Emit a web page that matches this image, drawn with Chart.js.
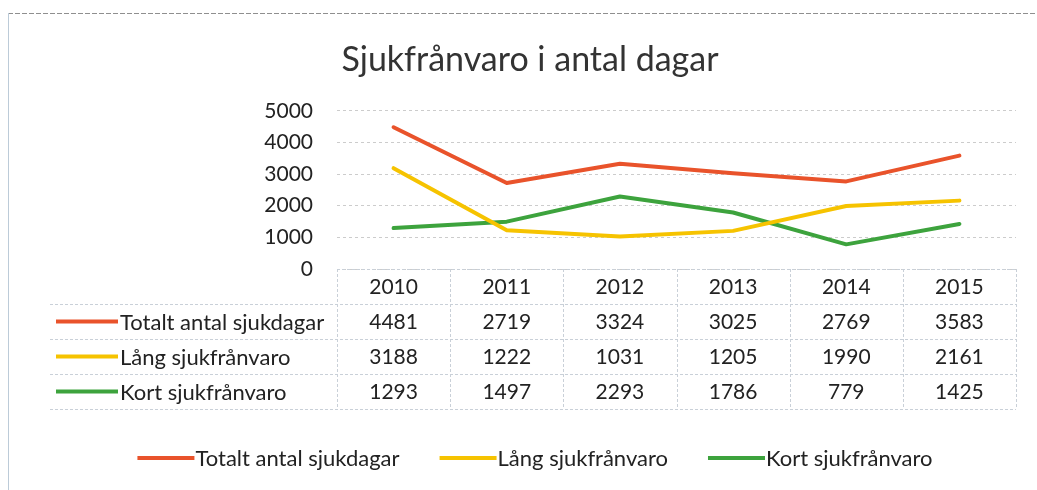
<!DOCTYPE html>
<html>
<head>
<meta charset="utf-8">
<script src="https://cdn.jsdelivr.net/npm/chart.js@4.4.1/dist/chart.umd.min.js"></script>
<style>
html,body{margin:0;padding:0;background:#fff;}
#wrap{width:1037px;height:490px;position:relative;}
canvas{display:block;}
</style>
</head>
<body>
<div id="wrap"><canvas id="c" width="1037" height="490"></canvas></div>
<script>
// ---- data ----
const years = ['2010', '2011', '2012', '2013', '2014', '2015'];
const totaltAntal = [4481, 2719, 3324, 3025, 2769, 3583];
const langFranvaro = [3188, 1222, 1031, 1205, 1990, 2161];
const kortFranvaro = [1293, 1497, 2293, 1786, 779, 1425];
const seriesNames = ['Totalt antal sjukdagar', 'Lång sjukfrånvaro', 'Kort sjukfrånvaro'];
const yTickValues = [0, 1000, 2000, 3000, 4000, 5000];
const titleText = 'Sjukfrånvaro i antal dagar';

const seriesColors = ['#E9532B', '#F6C300', '#3DA33D'];
const FONT = 'Lato, "Open Sans", sans-serif';
const TEXT = '#222222';

// ---- frame / border ----
const framePlugin = {
  id: 'frame',
  beforeDraw(chart) {
    const ctx = chart.ctx;
    ctx.save();
    ctx.fillStyle = '#ffffff';
    ctx.fillRect(0, 0, chart.width, chart.height);
    ctx.lineWidth = 1;
    ctx.strokeStyle = '#8f8f8f';
    ctx.setLineDash([5, 2]);
    ctx.beginPath(); ctx.moveTo(8, 13.5); ctx.lineTo(chart.width, 13.5); ctx.stroke();
    ctx.setLineDash([]);
    ctx.strokeStyle = '#bccbd8';
    ctx.beginPath(); ctx.moveTo(8.5, 13); ctx.lineTo(8.5, chart.height); ctx.stroke();
    ctx.restore();
  }
};

// ---- data table + legend ----
const tablePlugin = {
  id: 'dataTable',
  afterDraw(chart) {
    const ctx = chart.ctx;
    const area = chart.chartArea;
    const xs = chart.scales.x;
    const rowH = 35;
    const top = area.bottom;
    const nCols = chart.data.labels.length;
    const colW = (area.right - area.left) / nCols;
    const nRows = chart.data.datasets.length + 1;
    const numFont = '21px ' + FONT;
    const labFont = '22px ' + FONT;
    ctx.save();
    // grid lines of table
    ctx.lineWidth = 1;
    ctx.strokeStyle = '#c9d0d8';
    ctx.setLineDash([3, 2]);
    for (let r = 0; r <= nRows; r++) {
      const y = Math.round(top + r * rowH) + 0.5;
      ctx.beginPath();
      ctx.moveTo(r === 0 ? area.left : 50, y);
      ctx.lineTo(area.right, y);
      ctx.stroke();
    }
    for (let c = 0; c <= nCols; c++) {
      const xx = Math.round(area.left + c * colW) + 0.5;
      ctx.beginPath();
      ctx.moveTo(xx, top);
      ctx.lineTo(xx, top + nRows * rowH);
      ctx.stroke();
    }
    ctx.setLineDash([]);
    ctx.fillStyle = TEXT;
    ctx.textBaseline = 'middle';
    ctx.textAlign = 'center';
    ctx.font = numFont;
    chart.data.labels.forEach((lab, i) => {
      ctx.fillText(lab, xs.getPixelForValue(i), top + rowH / 2 + 1);
    });
    chart.data.datasets.forEach((ds, r) => {
      const cy = top + rowH * (r + 1.5);
      ctx.textAlign = 'center';
      ctx.fillStyle = TEXT;
      ctx.font = numFont;
      ds.data.forEach((v, i) => ctx.fillText(String(v), xs.getPixelForValue(i), cy + 1));
      ctx.strokeStyle = ds.borderColor;
      ctx.lineWidth = 4;
      ctx.lineCap = 'butt';
      ctx.beginPath(); ctx.moveTo(56, cy); ctx.lineTo(118, cy); ctx.stroke();
      ctx.textAlign = 'left';
      ctx.font = labFont;
      ctx.fillText(ds.label, 120, cy + 1);
    });

    // legend at bottom
    ctx.font = labFont;
    const keyW = 57, gapText = 1, gapItem = 40;
    const items = chart.data.datasets.map(ds => ({
      ds, w: keyW + gapText + ctx.measureText(ds.label).width
    }));
    const total = items.reduce((s, it) => s + it.w, 0) + gapItem * (items.length - 1);
    let lx = 535 - total / 2;
    const ly = 458;
    items.forEach(it => {
      ctx.strokeStyle = it.ds.borderColor;
      ctx.lineWidth = 4;
      ctx.beginPath(); ctx.moveTo(lx, ly); ctx.lineTo(lx + keyW, ly); ctx.stroke();
      ctx.fillStyle = TEXT;
      ctx.textAlign = 'left';
      ctx.fillText(it.ds.label, lx + keyW + gapText, ly + 1);
      lx += it.w + gapItem;
    });
    ctx.restore();
  }
};

function build() {
  new Chart(document.getElementById('c'), {
    type: 'line',
    data: {
      labels: years,
      datasets: [
        { label: seriesNames[0], data: totaltAntal, borderColor: seriesColors[0], backgroundColor: seriesColors[0] },
        { label: seriesNames[1], data: langFranvaro, borderColor: seriesColors[1], backgroundColor: seriesColors[1] },
        { label: seriesNames[2], data: kortFranvaro, borderColor: seriesColors[2], backgroundColor: seriesColors[2] }
      ]
    },
    options: {
      responsive: false,
      animation: false,
      devicePixelRatio: 1,
      layout: { padding: { left: 44, right: 21, top: 0, bottom: 0 } },
      elements: {
        line: { borderWidth: 4, tension: 0, borderCapStyle: 'round', borderJoinStyle: 'round' },
        point: { radius: 0, hoverRadius: 0 }
      },
      plugins: {
        legend: { display: false },
        tooltip: { enabled: false },
        title: {
          display: true,
          text: titleText,
          color: '#333333',
          font: { family: FONT, size: 34, weight: 'normal', lineHeight: 1.2 },
          padding: { top: 40, bottom: 30 }
        }
      },
      scales: {
        x: {
          offset: true,
          grid: { display: false, drawTicks: false },
          border: { display: false },
          ticks: { display: false },
          afterFit(scale) { scale.height = 221; }
        },
        y: {
          min: 0,
          max: 5000,
          afterBuildTicks(scale) { scale.ticks = yTickValues.map(v => ({ value: v })); },
          afterFit(scale) { scale.width = 337 - 44; },
          grid: { color: '#cccccc', drawTicks: false, lineWidth: 1 },
          border: { display: false, dash: [3, 3] },
          ticks: {
            color: TEXT, padding: 24, font: { family: FONT, size: 21 },
            callback: (v) => String(v)
          }
        }
      }
    },
    plugins: [framePlugin, tablePlugin]
  });
}

if (document.fonts && document.fonts.load) {
  Promise.all([document.fonts.load('21px Lato'), document.fonts.load('34px Lato')]).then(build, build);
} else {
  build();
}
</script>
</body>
</html>
